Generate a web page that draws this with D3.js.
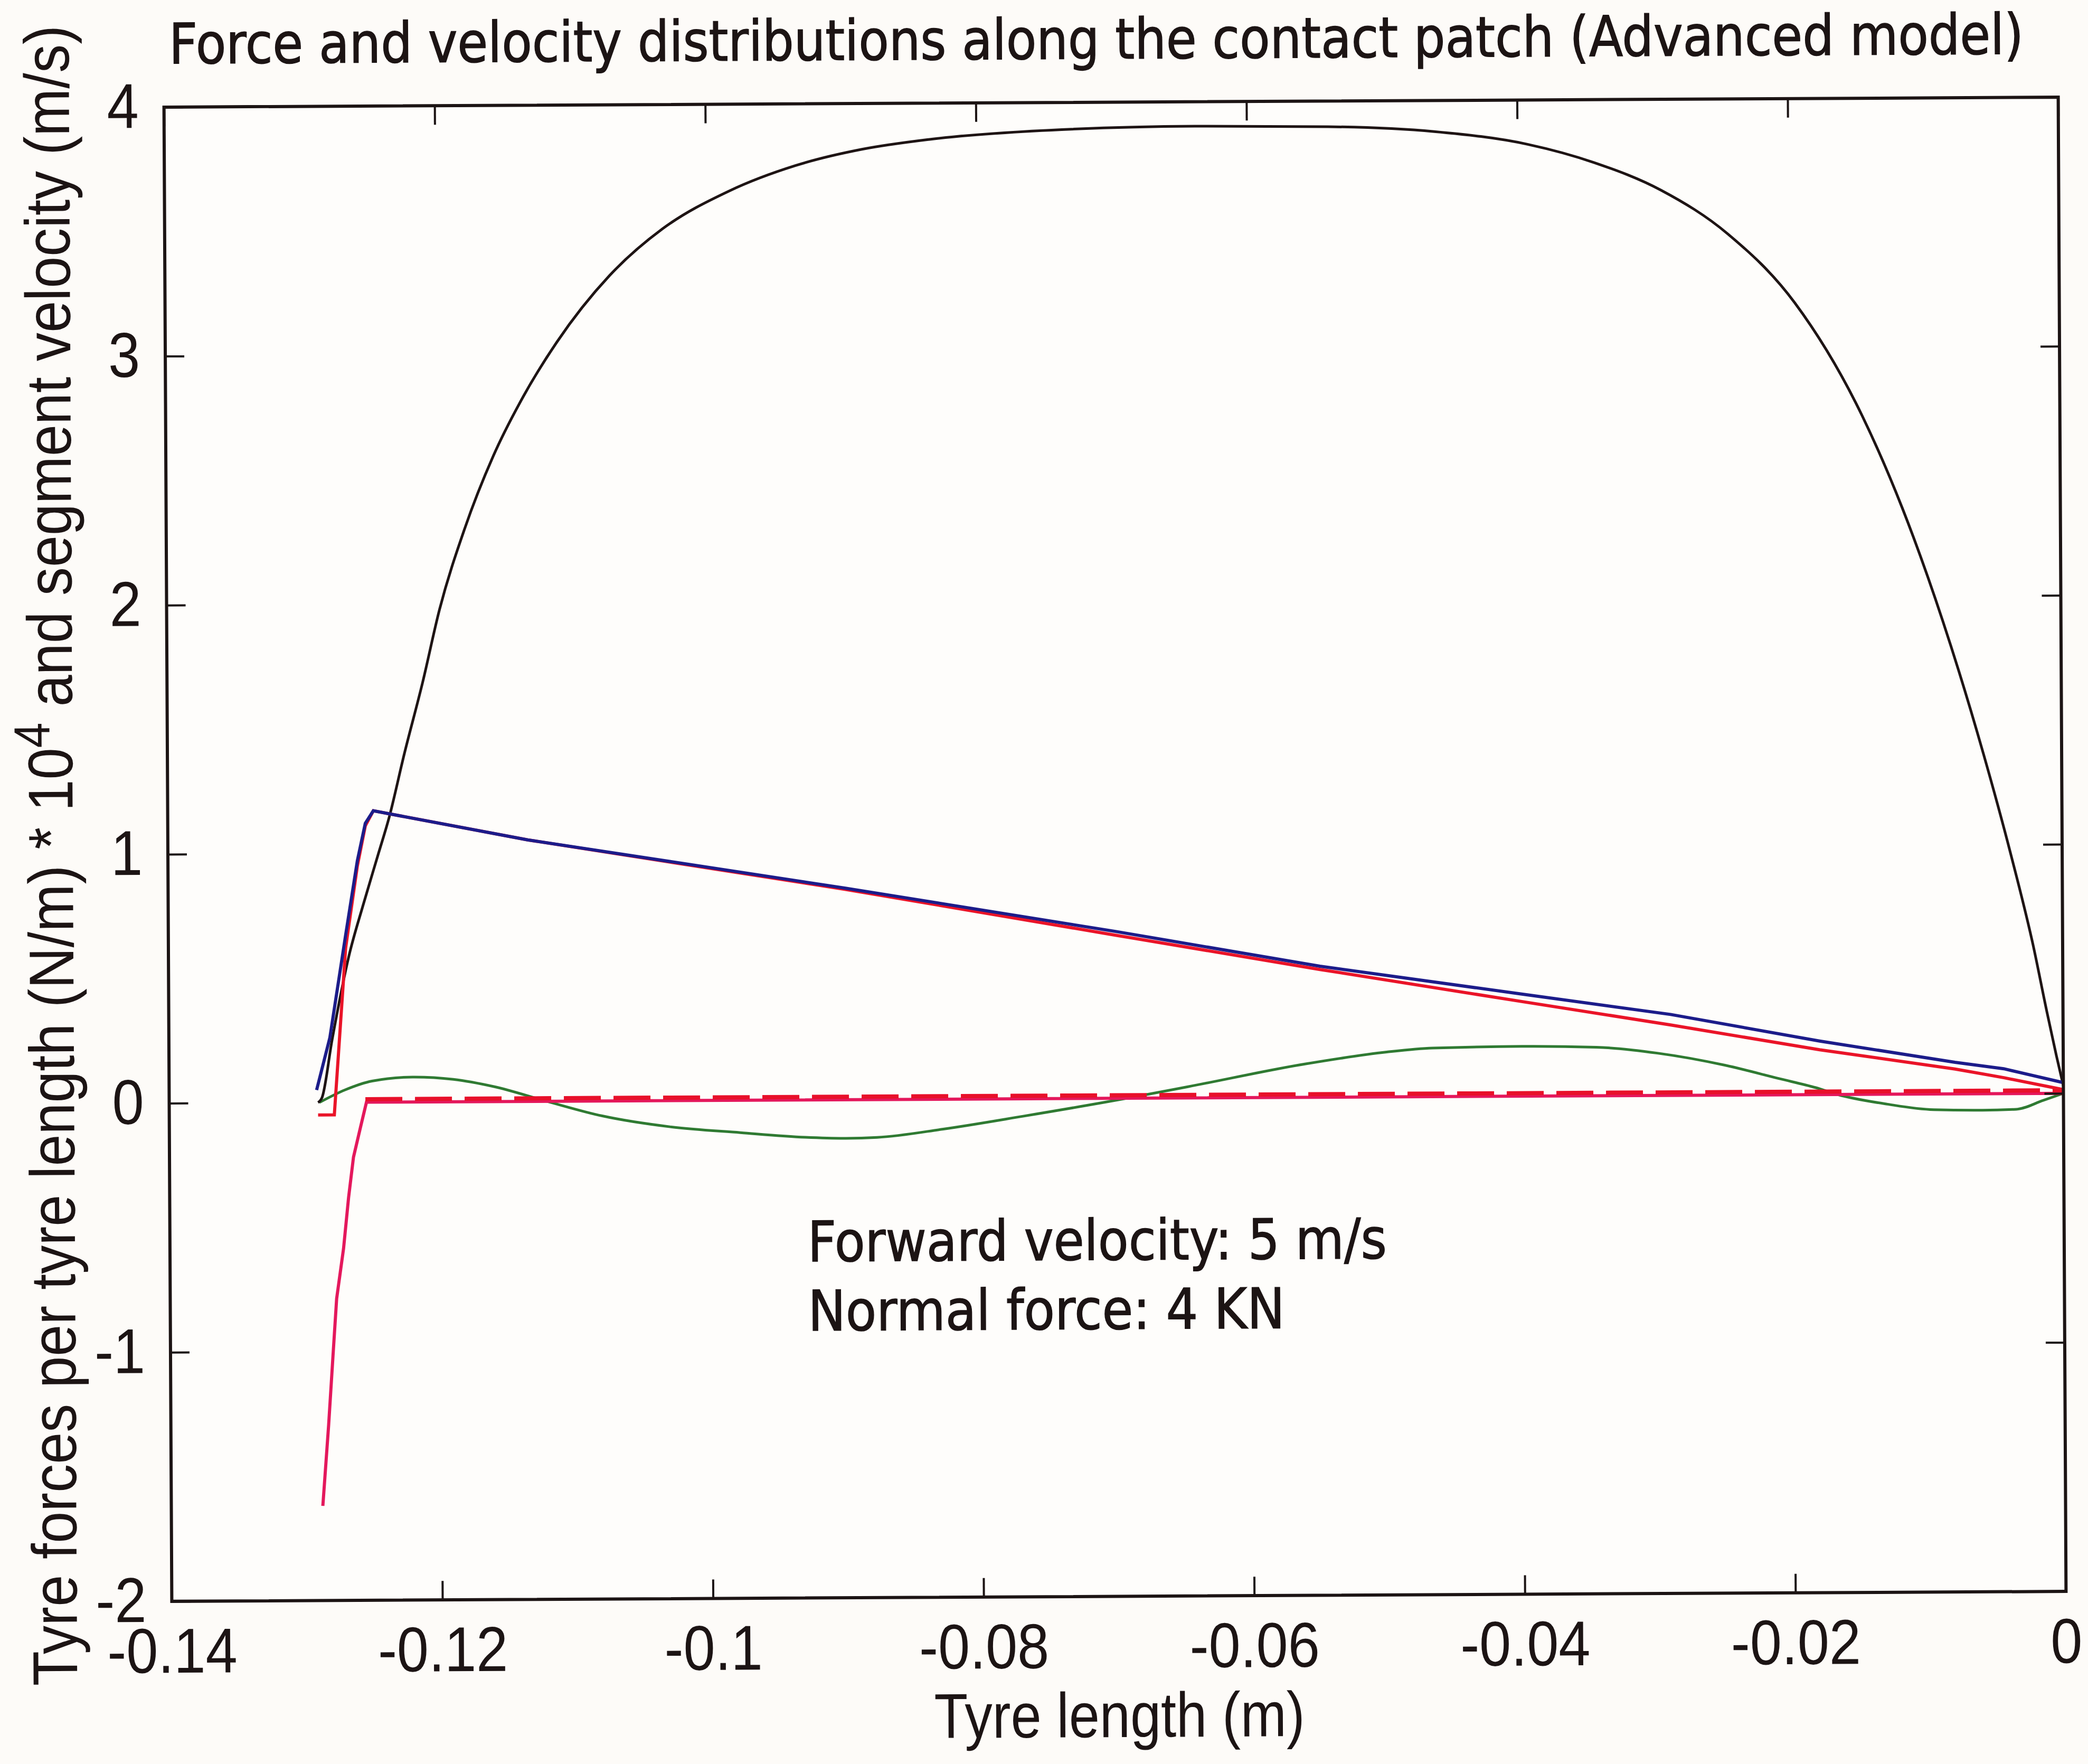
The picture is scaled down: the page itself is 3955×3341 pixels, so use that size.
<!DOCTYPE html>
<html>
<head>
<meta charset="utf-8">
<script src="https://cdn.jsdelivr.net/npm/d3@7"></script>
<style>
  html, body { margin: 0; padding: 0; background: #fdfbf8; }
  svg { display: block; }
</style>
</head>
<body>
<script>
// ---- Axis ticks ----
const xTicks = [-0.14, -0.12, -0.10, -0.08, -0.06, -0.04, -0.02, 0];
const xTickLabels = ["-0.14", "-0.12", "-0.1", "-0.08", "-0.06", "-0.04", "-0.02", "0"];
const yTicks = [-2, -1, 0, 1, 2, 3, 4];
const yTickLabels = ["-2", "-1", "0", "1", "2", "3", "4"];

// ---- Normal force distribution (black) ----
const normalX = [-0.1290, -0.1287, -0.12794, -0.12665, -0.1256, -0.12443, -0.12365, -0.12248,
                 -0.12111, -0.11983, -0.11796, -0.11580, -0.11353, -0.11107, -0.10714, -0.10320,
                 -0.09828, -0.09336, -0.08844, -0.08351, -0.07367, -0.06383, -0.05399, -0.04612,
                 -0.03923, -0.03431, -0.02939, -0.02447, -0.01955, -0.01462, -0.01167, -0.00872,
                 -0.00577, -0.00380, -0.00220, -0.00120, -0.00050, 0.0];
const normalY = [0.0, 0.02, 0.25, 0.59, 0.79, 1.00, 1.14, 1.40,
                 1.684, 1.977, 2.298, 2.592, 2.833, 3.047, 3.314, 3.501,
                 3.651, 3.752, 3.816, 3.854, 3.891, 3.902, 3.897, 3.875,
                 3.822, 3.747, 3.635, 3.458, 3.180, 2.726, 2.352, 1.897,
                 1.363, 0.962, 0.60, 0.33, 0.15, 0.03];

// ---- Lateral force, brush model (blue) ----
const brushX = [-0.1291, -0.1281, -0.1269, -0.1260, -0.1254, -0.1248, -0.1134, -0.0900, -0.0700,
                -0.0549, -0.0400, -0.0290, -0.0180, -0.0080, -0.0044, 0.0];
const brushY = [0.05, 0.26, 0.67, 0.97, 1.12, 1.17, 1.05, 0.85, 0.67,
                0.526, 0.41, 0.325, 0.215, 0.127, 0.10, 0.043];

// ---- Lateral force, advanced model (red) ----
const advX = [-0.1290, -0.1278, -0.1269, -0.1260, -0.1254, -0.1248, -0.1134, -0.0900, -0.0700,
              -0.0549, -0.0400, -0.0290, -0.0180, -0.0080, -0.0044, 0.0];
const advY = [-0.05, -0.05, 0.62, 0.95, 1.11, 1.17, 1.05, 0.845, 0.655,
              0.513, 0.38, 0.283, 0.18, 0.10, 0.064, 0.015];

// ---- Sliding velocity (crimson) ----
const slideX = [-0.1288, -0.12834, -0.12796, -0.1277, -0.12717, -0.12678, -0.1264, -0.12587, -0.12542, 0.0];
const slideY = [-1.62, -1.295, -0.992, -0.788, -0.587, -0.383, -0.22, -0.10, 0.0, 0.0];

// ---- Zero reference, dashed (red) ----
const refX = [-0.1255, 0.0];
const refY = [0.012, 0.012];

// ---- Segment lateral velocity (green) ----
const segX = [-0.1289, -0.1270, -0.1250, -0.1220, -0.1190, -0.1160, -0.1121, -0.1080, -0.1030,
              -0.0978, -0.0930, -0.0900, -0.0877, -0.0828, -0.0769, -0.0692, -0.0647, -0.0560,
              -0.0500, -0.0466, -0.0400, -0.0345, -0.0300, -0.0250, -0.0210, -0.0183, -0.0167,
              -0.0130, -0.0096, -0.0060, -0.0035, -0.0015, 0.0];
const segY = [0.0, 0.05, 0.085, 0.10, 0.09, 0.06, 0.0, -0.06, -0.105,
              -0.13, -0.150, -0.155, -0.152, -0.12, -0.07, 0.0, 0.045, 0.134,
              0.18, 0.195, 0.20, 0.195, 0.17, 0.12, 0.065, 0.028, 0.0,
              -0.04, -0.063, -0.066, -0.063, -0.028, 0.0];

// ---- Annotation and titles ----
const titleText = "Force and velocity distributions along the contact patch (Advanced model)";
const noteLines = ["Forward velocity: 5 m/s", "Normal force: 4 KN"];
const xLabelText = "Tyre length (m)";

const W = 3955, H = 3341;
const box = { left: 318, right: 3906, top: 193.5, bottom: 3023.5 };

const svg = d3.select("body").append("svg")
  .attr("width", W).attr("height", H)
  .attr("viewBox", `0 0 ${W} ${H}`);

svg.append("rect").attr("width", W).attr("height", H).attr("fill", "#fdfbf8");

// the whole sheet sits slightly askew
const g = svg.append("g")
  .attr("transform", `rotate(-0.3, ${(box.left + box.right) / 2}, ${(box.top + box.bottom) / 2})`);

const x = d3.scaleLinear().domain([-0.14, 0]).range([box.left, box.right]);
const y = d3.scaleLinear().domain([-2, 4]).range([box.bottom, box.top]);

const sans = "'Liberation Sans', Arial, Helvetica, sans-serif";
const ui = "'DejaVu Sans', Verdana, sans-serif";
const ink = "#1c1414";

function condense(sel, k) {
  sel.each(function () {
    const len = this.getComputedTextLength();
    d3.select(this).attr("textLength", len * k).attr("lengthAdjust", "spacingAndGlyphs");
  });
}

const tickLen = 36;

// plot area
g.append("rect")
  .attr("x", box.left).attr("y", box.top)
  .attr("width", box.right - box.left).attr("height", box.bottom - box.top)
  .attr("fill", "#fefdfb");

// series lines
const line = (xs, ys, curve) => d3.line()
  .x((d, i) => x(xs[i])).y((d, i) => y(ys[i]))
  .curve(curve || d3.curveLinear)(xs);

const plot = g.append("g");
plot.append("path").attr("d", line(segX, segY, d3.curveMonotoneX))
  .attr("fill", "none").attr("stroke", "#2f7a32").attr("stroke-width", 5);
plot.append("path").attr("d", line(slideX, slideY))
  .attr("fill", "none").attr("stroke", "#e4185c").attr("stroke-width", 6);
plot.append("path").attr("d", line(refX, refY))
  .attr("fill", "none").attr("stroke", "#e8102a").attr("stroke-width", 8)
  .attr("stroke-dasharray", "70 24");
plot.append("path").attr("d", line(normalX, normalY, d3.curveMonotoneX))
  .attr("fill", "none").attr("stroke", "#1e1414").attr("stroke-width", 5);
plot.append("path").attr("d", line(advX, advY))
  .attr("fill", "none").attr("stroke", "#ea1428").attr("stroke-width", 6);
plot.append("path").attr("d", line(brushX, brushY))
  .attr("fill", "none").attr("stroke", "#1c1c8a").attr("stroke-width", 6);

// axes with inward ticks on all four sides
const axFont = 120;
const xAxisB = g.append("g").attr("transform", `translate(0,${box.bottom})`)
  .call(d3.axisBottom(x).tickValues(xTicks).tickFormat((d, i) => xTickLabels[i])
    .tickSizeInner(-tickLen).tickSizeOuter(0).tickPadding(50));
const xAxisT = g.append("g").attr("transform", `translate(0,${box.top})`)
  .call(d3.axisTop(x).tickValues(xTicks).tickFormat("").tickSizeInner(-tickLen).tickSizeOuter(0));
const yAxisL = g.append("g").attr("transform", `translate(${box.left},0)`)
  .call(d3.axisLeft(y).tickValues(yTicks).tickFormat((d, i) => yTickLabels[i])
    .tickSizeInner(-tickLen).tickSizeOuter(0).tickPadding(48));
const yAxisR = g.append("g").attr("transform", `translate(${box.right},0)`)
  .call(d3.axisRight(y).tickValues(yTicks).tickFormat("").tickSizeInner(-tickLen).tickSizeOuter(0));

[xAxisB, xAxisT, yAxisL, yAxisR].forEach(a => {
  a.select(".domain").remove();
  a.selectAll(".tick line").attr("stroke", ink).attr("stroke-width", 4);
  a.selectAll(".tick text").attr("fill", ink).attr("font-family", sans).attr("font-size", axFont);
});
xAxisB.selectAll(".tick text").call(condense, 0.9);
yAxisL.selectAll(".tick text").call(condense, 0.9);

// frame
g.append("rect")
  .attr("x", box.left).attr("y", box.top)
  .attr("width", box.right - box.left).attr("height", box.bottom - box.top)
  .attr("fill", "none").attr("stroke", ink).attr("stroke-width", 6);

// title
g.append("text")
  .attr("x", 328).attr("y", 111)
  .attr("font-family", ui).attr("font-size", 106).attr("fill", ink)
  .attr("stroke", ink).attr("stroke-width", 1.5)
  .attr("textLength", 3513).attr("lengthAdjust", "spacingAndGlyphs")
  .text(titleText);

// annotation
const noteW = [1097, 903];
noteLines.forEach((t, i) => {
  g.append("text")
    .attr("x", 1526).attr("y", 2386 + i * 131)
    .attr("font-family", ui).attr("font-size", 106).attr("fill", ink)
    .attr("stroke", ink).attr("stroke-width", 1.5)
    .attr("textLength", noteW[i]).attr("lengthAdjust", "spacingAndGlyphs")
    .text(t);
});

// x label
g.append("text")
  .attr("x", (box.left + box.right) / 2).attr("y", 3290)
  .attr("text-anchor", "middle")
  .attr("font-family", sans).attr("font-size", axFont).attr("fill", ink)
  .text(xLabelText)
  .call(condense, 0.87);

// y label with superscript
const yl = g.append("text")
  .attr("transform", `translate(138,1610) rotate(-90)`)
  .attr("text-anchor", "middle")
  .attr("font-family", sans).attr("font-size", axFont).attr("fill", ink);
yl.append("tspan").text("Tyre forces per tyre length (N/m) * 10");
yl.append("tspan").attr("dy", "-0.45em").attr("font-size", "0.8em").text("4");
yl.append("tspan").attr("dy", "0.36em").text(" and segment velocity (m/s)");
yl.attr("textLength", 3145).attr("lengthAdjust", "spacingAndGlyphs");
</script>
</body>
</html>
